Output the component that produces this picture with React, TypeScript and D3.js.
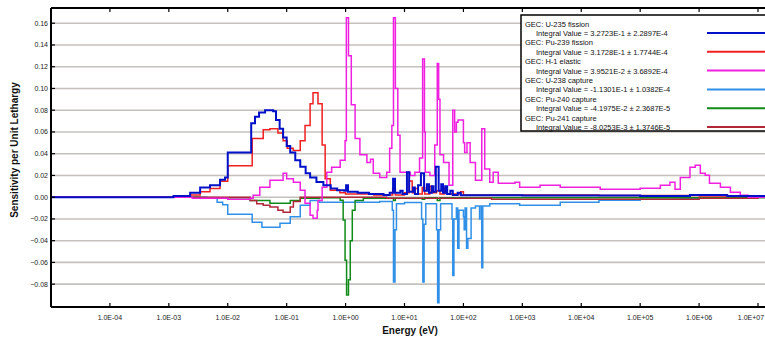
import React from 'react';
import * as d3 from 'd3';

// energy (eV), sensitivity per unit lethargy
const u235Fission: [number, number][] = [
  [1e-5, 0], [7e-4, 0], [1.2e-3, 0.001], [2.3e-3, 0.004], [3.4e-3, 0.009], [5e-3, 0.011], [7.4e-3, 0.016],
  [9e-3, 0.018], [1e-2, 0.041], [2.5e-2, 0.068], [2.9e-2, 0.074], [3.4e-2, 0.078], [4.3e-2, 0.08], [5.9e-2, 0.079],
  [6.6e-2, 0.071], [7.6e-2, 0.063], [8.7e-2, 0.055], [0.1, 0.047], [0.115, 0.041], [0.14, 0.034], [0.17, 0.028],
  [0.21, 0.022], [0.25, 0.018], [0.32, 0.014], [0.42, 0.011], [0.56, 0.008], [0.72, 0.0064], [0.95, 0.006],
  [1.02, 0.011], [1.1, 0.005], [1.6, 0.004], [2.5, 0.003], [4.4, 0.002], [5.6, 0.004], [6.4, 0.017], [6.9, 0.004],
  [8.5, 0.006], [9.3, 0.003], [11, 0.023], [12, 0.005], [14, 0.009], [15, 0.003], [17, 0.011], [19, 0.022],
  [21.5, 0.006], [24, 0.012], [26, 0.004], [29, 0.01], [31, 0.005], [34, 0.028], [38, 0.006], [42, 0.012],
  [45, 0.004], [49, 0.01], [53, 0.003], [60, 0.006], [66, 0.002], [80, 0.004], [90, 0.0018], [1e3, 0.0015],
  [1e5, 0.0012], [7e5, 0.002], [3e6, 0.001], [2e7, 0.001],
];

const pu239Fission: [number, number][] = [
  [1e-5, 0], [1e-3, 0], [2.3e-3, 0.002], [3.4e-3, 0.005], [5e-3, 0.008], [7.4e-3, 0.0147], [1e-2, 0.029],
  [2.6e-2, 0.054], [4e-2, 0.062], [5.2e-2, 0.063], [7.1e-2, 0.059], [8.7e-2, 0.052], [0.102, 0.045],
  [0.129, 0.043], [0.17, 0.052], [0.205, 0.066], [0.25, 0.086], [0.28, 0.096], [0.34, 0.086], [0.4, 0.048],
  [0.45, 0.017], [0.55, 0.0064], [0.8, 0.004], [1.0, 0.003], [3, 0.002], [6.3, 0.008], [7, 0.002], [10, 0.004],
  [12, 0.015], [13.5, 0.004], [15, 0.008], [17, 0.003], [20, 0.009], [22, 0.003], [27, 0.01], [29, 0.004],
  [35, 0.006], [40, 0.003], [48, 0.008], [52, 0.003], [90, 0.005], [100, 0.002], [2e4, 0.0015], [1e6, 0.001],
  [2e7, 0],
];

const h1Elastic: [number, number][] = [
  [1e-5, 0], [2e-3, 0], [2.5e-3, -0.001], [1e-2, -0.002], [2.4e-2, -0.001], [2.7e-2, 0.0018], [3.5e-2, 0.0092],
  [5.2e-2, 0.0156], [8.7e-2, 0.022], [0.1, 0.017], [0.13, 0.0138], [0.17, 0.0064], [0.205, -0.0055],
  [0.25, -0.0166], [0.28, -0.0193], [0.33, -0.012], [0.34, -0.003], [0.4, 0.0092], [0.48, 0.023], [0.58, 0.0276],
  [0.81, 0.034], [0.98, 0.052], [1.03, 0.165], [1.12, 0.13], [1.25, 0.085], [1.45, 0.054], [1.75, 0.039],
  [2.3, 0.032], [2.65, 0.035], [2.95, 0.022], [3.8, 0.018], [5.0, 0.023], [5.6, 0.045], [6.1, 0.066],
  [6.5, 0.165], [7.0, 0.1], [7.7, 0.057], [8.4, 0.023], [12.5, 0.02], [15, 0.023], [18, 0.036], [20.3, 0.127],
  [21.8, 0.06], [22.5, 0.023], [27, 0.02], [32.6, 0.048], [36, 0.123], [38, 0.09], [40, 0.039], [46, 0.032],
  [57, 0.011], [66, 0.08], [71, 0.06], [76, 0.069], [81, 0.071], [100, 0.05], [105, 0.041], [115, 0.05],
  [130, 0.032], [160, 0.0156], [205, 0.063], [230, 0.026], [280, 0.0138], [320, 0.023], [390, 0.0128],
  [750, 0.0138], [900, 0.0092], [2e3, 0.011], [4.4e3, 0.0092], [9.6e3, 0.0092], [2.1e4, 0.0074], [4.6e4, 0.0074],
  [1e5, 0.0083], [2.2e5, 0.011], [3.2e5, 0.0138], [3.9e5, 0.0074], [4.8e5, 0.018], [7e5, 0.0276], [8.6e5, 0.0294],
  [1.05e6, 0.022], [1.27e6, 0.0202], [1.5e6, 0.0128], [2.3e6, 0.0092], [3.4e6, 0.0046], [5e6, 0.0018],
  [6.8e6, 0], [2e7, 0],
];

const u238Capture: [number, number][] = [
  [1e-5, 0], [2e-3, 0], [4.5e-3, -0.001], [6.6e-3, -0.0046], [8.2e-3, -0.007], [1e-2, -0.0156], [2.6e-2, -0.023],
  [3.8e-2, -0.0276], [5.9e-2, -0.0276], [7.7e-2, -0.024], [0.115, -0.018], [0.17, -0.0074], [0.25, -0.003],
  [0.36, -0.0046], [3.8, -0.004], [6.2, -0.012], [6.5, -0.078], [6.9, -0.03], [7.3, -0.006], [10, -0.005],
  [19.5, -0.02], [20.5, -0.078], [21.5, -0.025], [23, -0.006], [35, -0.03], [36.5, -0.097], [38.5, -0.03],
  [41, -0.006], [64, -0.02], [66, -0.072], [69, -0.02], [76, -0.01], [80, -0.047], [84, -0.012], [100, -0.018],
  [103, -0.03], [107, -0.01], [113, -0.047], [119, -0.038], [128, -0.038], [135, -0.01], [160, -0.008],
  [188, -0.02], [192, -0.008], [205, -0.065], [213, -0.008], [280, -0.006], [900, -0.0074], [4.4e3, -0.0046],
  [2e4, -0.0028], [1e5, -0.002], [4.8e5, -0.001], [2.3e6, 0], [2e7, 0],
];

const pu240Capture: [number, number][] = [
  [1e-5, 0], [3.4e-3, -0.0005], [1e-2, -0.002], [2.4e-2, -0.003], [5.2e-2, -0.0055], [0.115, -0.003],
  [0.17, -0.001], [0.36, -0.0005], [0.81, -0.0028], [0.91, -0.021], [0.98, -0.058], [1.04, -0.09],
  [1.12, -0.076], [1.2, -0.04], [1.3, -0.012], [1.45, -0.003], [2, -0.001], [6.5, -0.003], [7, -0.001],
  [20, -0.002], [22, -0.0005], [36, -0.003], [40, -0.0005], [1e3, -0.0005], [2e7, 0],
];

const pu241Capture: [number, number][] = [
  [1e-5, 0], [1e-2, 0], [2.4e-2, -0.003], [3.1e-2, -0.006], [4e-2, -0.0074], [5.2e-2, -0.009], [7.1e-2, -0.012],
  [8.7e-2, -0.0138], [0.115, -0.009], [0.13, -0.004], [0.17, 0], [5, -0.001], [300, -0.002], [2e4, -0.0018],
  [1e6, -0.001], [1e7, 0], [2e7, 0],
];

const seriesNames = ['GEC: U-235 fission', 'GEC: Pu-239 fission', 'GEC: H-1 elastic', 'GEC: U-238 capture', 'GEC: Pu-240 capture', 'GEC: Pu-241 capture'];
const integralTexts = [
  'Integral Value = 3.2723E-1 ± 2.2897E-4',
  'Integral Value = 3.1728E-1 ± 1.7744E-4',
  'Integral Value = 3.9521E-2 ± 3.6892E-4',
  'Integral Value = -1.1301E-1 ± 1.0382E-4',
  'Integral Value = -4.1975E-2 ± 2.3687E-5',
  'Integral Value = -8.0253E-3 ± 1.3746E-5',
];
const seriesColors = ['#0010c8', '#f02020', '#f020e0', '#3090e8', '#108a18', '#b02838'];
const seriesData = [u235Fission, pu239Fission, h1Elastic, u238Capture, pu240Capture, pu241Capture];
const drawOrder = [3, 4, 5, 1, 2, 0];

const xTicks = [1e-4, 1e-3, 1e-2, 1e-1, 1e0, 1e1, 1e2, 1e3, 1e4, 1e5, 1e6, 1e7];
const xTickLabels = ['1.0E-04', '1.0E-03', '1.0E-02', '1.0E-01', '1.0E+00', '1.0E+01', '1.0E+02', '1.0E+03', '1.0E+04', '1.0E+05', '1.0E+06', '1.0E+07'];
const yTicks = [-0.08, -0.06, -0.04, -0.02, 0, 0.02, 0.04, 0.06, 0.08, 0.1, 0.12, 0.14, 0.16];

const W = 765;
const H = 340;
const left = 51;
const top = 8;
const bottom = 307;
const right = 790;

export default function App() {
  const x = d3.scaleLog().domain([1e-5, 1e7]).range([left, 758]);
  const y = d3.scaleLinear().domain([-0.101, 0.174]).range([bottom, top]);
  const line = d3.line<[number, number]>()
    .x(d => x(d[0]))
    .y(d => y(d[1]))
    .curve(d3.curveStepAfter);
  const fmt = d3.format('.2f');

  return (
    <svg width={W} height={H} style={{ position: 'absolute', left: 0, top: 0, background: '#fff' }}
      fontFamily="'Liberation Sans', Arial, sans-serif">
      <defs>
        <clipPath id="plot">
          <rect x={left} y={top} width={right - left} height={bottom - top} />
        </clipPath>
      </defs>
      {/* grid */}
      {yTicks.map(t => (
        <line key={t} x1={left} x2={W} y1={y(t)} y2={y(t)} stroke="#c4c0bc" strokeWidth={1.6} />
      ))}
      {/* series */}
      <g clipPath="url(#plot)" fill="none">
        {drawOrder.map(i => (
          <path key={i} d={line(seriesData[i]) || ''} stroke={seriesColors[i]}
            strokeWidth={i === 0 ? 2 : 1.5} strokeLinejoin="miter" />
        ))}
      </g>
      {/* frame */}
      <line x1={left} x2={W} y1={top} y2={top} stroke="#000" strokeWidth={2} />
      <line x1={left} x2={W} y1={bottom} y2={bottom} stroke="#000" strokeWidth={2} />
      <line x1={left} x2={left} y1={top} y2={bottom} stroke="#000" strokeWidth={2} />
      {/* y axis */}
      {yTicks.map(t => (
        <g key={t}>
          <line x1={left} x2={left + 4} y1={y(t)} y2={y(t)} stroke="#000" strokeWidth={1.2} />
          <text x={left - 3} y={y(t) + 2.5} fontSize={7} textAnchor="end" fill="#222">{fmt(t)}</text>
        </g>
      ))}
      {/* x axis */}
      {xTicks.map((t, i) => (
        <g key={t}>
          <line x1={x(t)} x2={x(t)} y1={bottom} y2={bottom - 4} stroke="#000" strokeWidth={1.2} />
          <line x1={x(t)} x2={x(t)} y1={top} y2={top + 4} stroke="#000" strokeWidth={1.2} />
          <text x={Math.min(x(t), W - 14)} y={bottom + 13} fontSize={7} textAnchor="middle" fill="#222">{xTickLabels[i]}</text>
        </g>
      ))}
      <text x={410} y={334} fontSize={10} fontWeight="bold" textAnchor="middle" fill="#111">Energy (eV)</text>
      <text transform={`translate(18,${150}) rotate(-90)`} fontSize={10} fontWeight="bold" textAnchor="middle" fill="#111">
        Sensitivity per Unit Lethargy
      </text>
      {/* legend */}
      <g>
        <rect x={521} y={15} width={260} height={116} fill="#fff" stroke="#000" strokeWidth={1.5} />
        {seriesNames.map((name, i) => {
          const ly = 33 + i * 18.8;
          return (
            <g key={name}>
              <text x={525} y={ly - 6.5} fontSize={7.5} fill="#111">{name}</text>
              <text x={536} y={ly + 3} fontSize={7.5} fill="#111">{integralTexts[i]}</text>
              <line x1={707} x2={W} y1={ly} y2={ly} stroke={seriesColors[i]} strokeWidth={2} />
            </g>
          );
        })}
      </g>
    </svg>
  );
}
